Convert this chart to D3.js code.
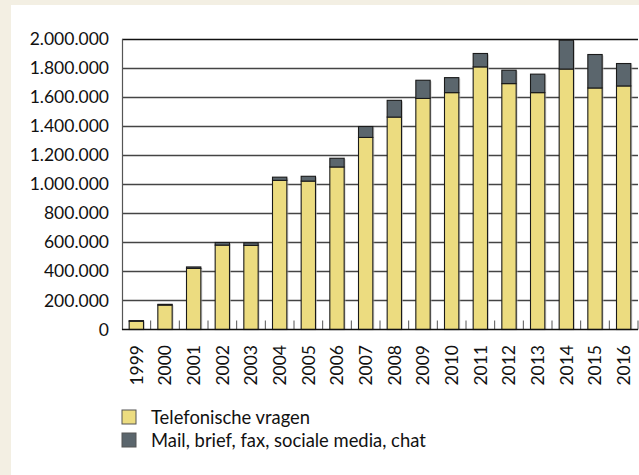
<!DOCTYPE html>
<html><head><meta charset="utf-8">
<script src="https://cdn.jsdelivr.net/npm/d3@7"></script>
<style>html,body{margin:0;padding:0;background:#fff;}svg{display:block;}</style>
</head><body>
<script>
const years = ["1999","2000","2001","2002","2003","2004","2005","2006","2007","2008","2009","2010","2011","2012","2013","2014","2015","2016"];
const telefonisch = [57000,168000,420000,580000,578000,1025000,1020000,1117000,1320000,1460000,1588000,1628000,1805000,1690000,1628000,1790000,1660000,1674000];
const overig = [4000,5000,10000,18000,18000,22000,33000,60000,75000,115000,125000,103000,92000,92000,127000,198000,230000,154000];
const seriesNames = ["Telefonische vragen","Mail, brief, fax, sociale media, chat"];
const yTicks = [0,200000,400000,600000,800000,1000000,1200000,1400000,1600000,1800000,2000000];

const W = 639, H = 475;
const colors = ["#ecdc80","#5b666d"];
const font = "Lato, 'Open Sans', sans-serif";
const fmt = v => v === 0 ? "0" : d3.format(",")(v).replace(/,/g, ".");

const svg = d3.select("body").append("svg").attr("width", W).attr("height", H);
svg.append("rect").attr("width", W).attr("height", H).attr("fill", "#f3efe3");
svg.append("rect").attr("x", 11).attr("y", 5).attr("width", W - 11).attr("height", H - 5).attr("fill", "#fff");

const x = d3.scaleBand().domain(years).range([122, 638]).paddingInner(0.5).paddingOuter(0.25);
const y = d3.scaleLinear().domain([0, 2000000]).range([329.5, 38.5]);

// gridlines
const grid = svg.append("g");
grid.selectAll("line").data(yTicks.filter(d => d > 0)).join("line")
  .attr("x1", 122).attr("x2", 638)
  .attr("y1", d => Math.round(y(d)) + 0.5).attr("y2", d => Math.round(y(d)) + 0.5)
  .attr("stroke", d => d === 2000000 ? "#111" : "#444").attr("stroke-width", 1.3);

// y axis
const yAxis = svg.append("g").attr("transform", "translate(122,0)")
  .call(d3.axisLeft(y).tickValues(yTicks).tickFormat(fmt).tickSize(0).tickPadding(13));
yAxis.select(".domain").attr("stroke", "#555").attr("stroke-width", 1.2);
yAxis.selectAll("text").attr("font-family", font).attr("font-size", "17.5px").attr("fill", "#111");

// bottom ticks (inward)
const bandEdges = years.map((d, i) => 122 + i * (516 / 18)).slice(1).concat([638]);
svg.append("g").selectAll("line").data(bandEdges).join("line")
  .attr("x1", d => d).attr("x2", d => d).attr("y1", 320.5).attr("y2", 329.5)
  .attr("stroke", "#555").attr("stroke-width", 1);

// stacked bars
const data = years.map((yr, i) => ({year: yr, t: telefonisch[i], o: overig[i]}));
const stack = d3.stack().keys(["t", "o"])(data);
const bw = x.bandwidth();
// shadows
svg.append("g").selectAll("rect").data(data).join("rect")
  .attr("x", d => x(d.year) + 1.5).attr("y", d => y(d.t + d.o) + 1)
  .attr("width", bw).attr("height", d => y(0) - y(d.t + d.o) - 1)
  .attr("fill", "#bbb").attr("opacity", 0.6);
stack.forEach((s, k) => {
  svg.append("g").selectAll("rect").data(s).join("rect")
    .attr("x", d => x(d.data.year)).attr("y", d => y(d[1]))
    .attr("width", bw).attr("height", d => Math.max(0, y(d[0]) - y(d[1])))
    .attr("fill", colors[k]).attr("stroke", "#1a1a1a").attr("stroke-width", 1.1);
});

// baseline
svg.append("line").attr("x1", 122).attr("x2", 638).attr("y1", 329.5).attr("y2", 329.5)
  .attr("stroke", "#111").attr("stroke-width", 1.3);

// x labels
svg.append("g").selectAll("text").data(years).join("text")
  .attr("transform", d => `translate(${x(d) + bw / 2},345) rotate(-90)`)
  .attr("text-anchor", "end").attr("dy", "0.36em")
  .attr("font-family", font).attr("font-size", "17.5px").attr("fill", "#111")
  .text(d => d);

// legend
const leg = svg.append("g").selectAll("g").data(seriesNames).join("g")
  .attr("transform", (d, i) => `translate(122,${410 + i * 23})`);
leg.append("rect").attr("width", 14).attr("height", 14)
  .attr("fill", (d, i) => colors[i]).attr("stroke", "#555").attr("stroke-width", 1);
leg.append("text").attr("x", 29).attr("y", 7).attr("dy", "0.36em")
  .attr("font-family", font).attr("font-size", "18.4px").attr("fill", "#111")
  .text(d => d);
</script>
</body></html>
